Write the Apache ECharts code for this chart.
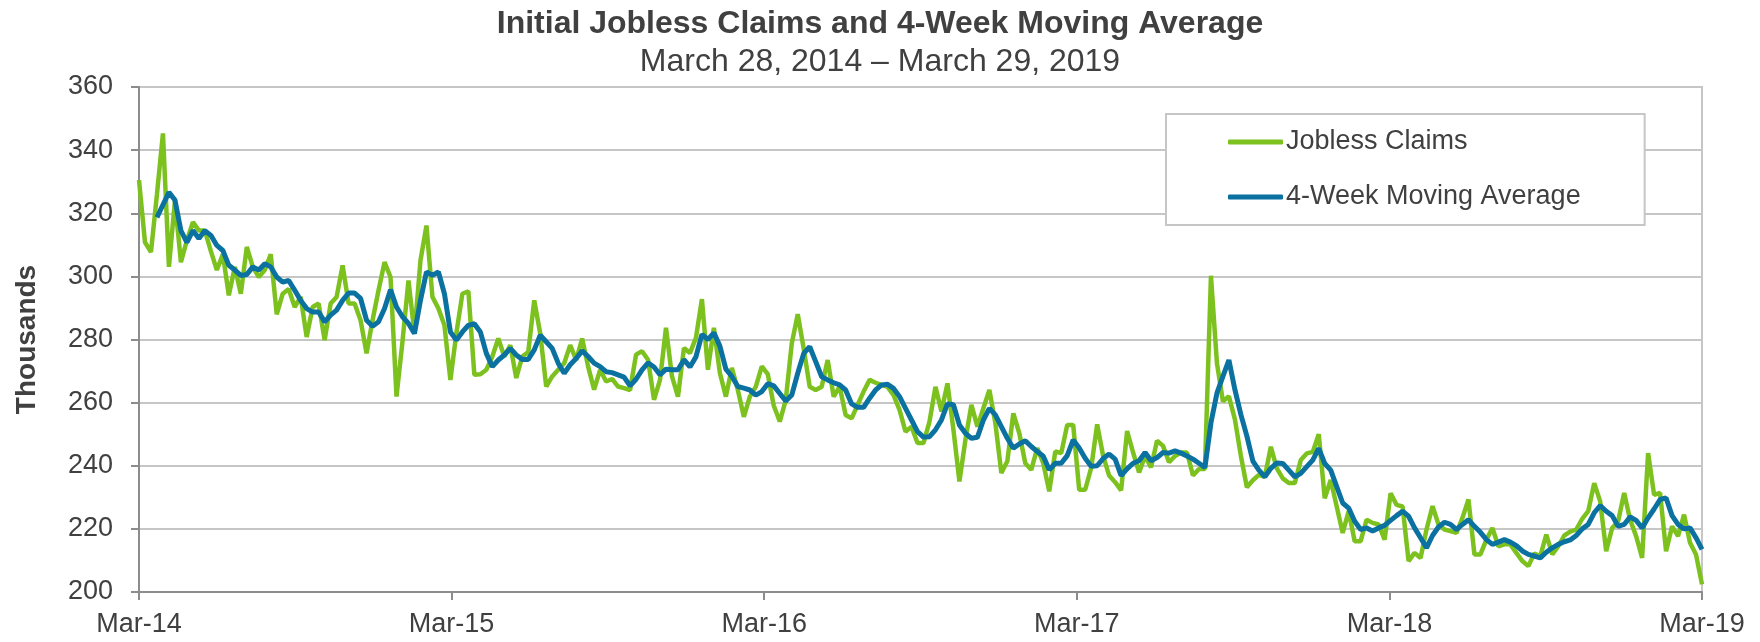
<!DOCTYPE html>
<html><head><meta charset="utf-8">
<script src="https://cdn.jsdelivr.net/npm/echarts@6/dist/echarts.min.js"></script>
<style>html,body{margin:0;padding:0;background:#fff}#c{width:1760px;height:642px}</style>
</head><body><div id="c"></div>
<script>
// Weekly data, week ending March 28, 2014 (index 0) to March 29, 2019 (index 261)
const xTickLabels = ['Mar-14', 'Mar-15', 'Mar-16', 'Mar-17', 'Mar-18', 'Mar-19'];
const weeksPerTick = 52.2;

const joblessClaims = [
  330.5, 310.8, 307.7, 326, 345.3, 303, 324, 304.5, 311.4, 317.2,
  314.5, 314.5, 308, 302, 307, 294, 303, 294.5, 309.3, 303,
  299.8, 302, 307, 288, 294.5, 296, 290.3, 293.5, 280.8, 290.3,
  291.4, 279.8, 291.4, 293.5, 303.5, 291.4, 291.4, 286.1, 275.6, 286.1,
  295.6, 304.5, 299.8, 261.9, 279.4, 298.7, 281.9, 305, 316.1, 293.5,
  289.8, 284.5, 267.2, 282, 294.5, 295.3, 268.8, 269, 270.4, 274.6,
  280.3, 274.6, 278.2, 267.8, 274.6, 276, 292.4, 281.9, 265.1, 268.3,
  270.4, 272.5, 278.2, 273.5, 280.3, 271.4, 264.1, 270.4, 266.7, 267.5,
  265.1, 264.6, 264, 275.2, 276.3, 273.6, 260.9, 267.2, 283.7, 268.3,
  261.9, 277.3, 275.7, 280.5, 292.8, 270.4, 283.7, 269.4, 261.9, 271,
  264, 255.5, 261.9, 265.1, 271.5, 269, 259, 254, 260.8, 278.7,
  288, 277, 265, 264, 265, 273.5, 261.9, 265.1, 256.1, 255,
  259.3, 263.5, 267.2, 266.3, 265.6, 265, 262.4, 257.7, 250.8, 252.4,
  247.2, 247.2, 254, 265, 257.2, 266.1, 251.4, 235, 248.2, 259.3,
  252.4, 258.2, 264, 253.5, 237.7, 241.4, 256.6, 250.3, 240.8, 238.7,
  245.6, 240.8, 231.9, 244.5, 244, 252.9, 252.9, 232.4, 232.4, 239.3,
  253.1, 243.1, 236.9, 234.8, 232.2, 251, 244.2, 237.9, 243.1, 239.5,
  247.9, 246.3, 241.1, 243.1, 244.2, 244.2, 236.9, 239, 239, 300.2,
  272.5, 260.4, 262, 254.7, 243.1, 233.2, 235.4, 237.1, 236.5, 246,
  239.2, 236, 234.5, 234.5, 241.8, 243.9, 244.4, 250, 229.7, 235.5,
  227.1, 218.7, 225.6, 216.1, 216.1, 222.9, 221.9, 221.4, 216.6, 231.3,
  227.6, 227.1, 209.8, 212.4, 210.8, 219.8, 227.2, 221.4, 219.8, 219.3,
  218.7, 223.5, 229.3, 211.9, 211.9, 216.6, 220.3, 214.5, 215.1, 215.1,
  212.4, 209.8, 208.2, 212.2, 211.4, 218.2, 211.9, 214.5, 217.9, 219.1,
  219.8, 223.2, 225.6, 234.5, 228.7, 212.9, 220.3, 222.4, 231.4, 222.9,
  217.7, 210.8, 244, 230.8, 231.4, 212.9, 220.8, 217.7, 224.5, 215.6,
  211.9, 202.4
];

const movingAverage = [
  null, null, null, 318.7, 322.7, 326.6, 324.2, 314.5, 310.8, 314.5,
  312, 314.5, 313, 309.8, 308.2, 303.5, 302, 300.3, 300.6, 303,
  302, 304, 303, 299.8, 298.2, 298.7, 295.6, 292.4, 289.8, 288.7,
  288.7, 285.6, 287.7, 289.3, 292.4, 294.7, 294.7, 293, 286.1, 284.2,
  285.6, 289.8, 295.8, 290.3, 287.2, 285.1, 281.9, 292.4, 301.4, 300.3,
  301.4, 294.5, 282.4, 279.8, 282.4, 284.5, 285, 282.4, 275.6, 271.4,
  273.5, 275.1, 277.2, 275.1, 273.7, 273.7, 276.7, 281.4, 279.3, 277.2,
  272.5, 269.3, 272, 274, 276.4, 274.6, 272.5, 271.4, 269.8, 269.5,
  268.8, 268.1, 265.3, 267.4, 270.4, 272.6, 271.3, 268.8, 270.6, 270.4,
  270.4, 273.6, 271.3, 274.5, 281.6, 280, 282.1, 277.9, 270.6, 268.3,
  265.1, 264.6, 264, 262.4, 263.5, 266, 265.3, 262.9, 260.5, 262.4,
  269.3, 275.6, 277.7, 273, 268.2, 267.2, 266.3, 265.6, 264, 259.6,
  258.5, 258.5, 261.4, 264, 265.6, 265.8, 264.5, 261.9, 258.2, 254.5,
  250.8, 249.1, 249.2, 251.4, 254.5, 259.6, 259.3, 252.9, 250.3, 248.7,
  249, 254.5, 258.2, 256.1, 252.4, 248.7, 245.6, 246.9, 247.9, 246.1,
  244.5, 243, 238.7, 240.8, 240.8, 243.2, 248.2, 245.6, 242.4, 239.8,
  240, 242.3, 243.7, 242.1, 236.9, 239, 240.8, 241.6, 244.2, 241.6,
  242.6, 244.2, 244, 244.7, 244, 243.1, 242.1, 240.8, 239.5, 253.6,
  263, 268.3, 273.5, 264.1, 256.2, 249.4, 241.5, 238.6, 236.5, 239.2,
  240.9, 240.7, 238.6, 236.5, 237.6, 239.7, 241.8, 245.5, 240.7, 238.6,
  233.4, 228.2, 226.6, 222.4, 219.8, 220.3, 219.3, 220.3, 221.1, 222.7,
  224.2, 225.6, 224, 220.3, 217.2, 214, 217.9, 220.6, 222.1, 221.4,
  219.8, 221.4, 222.9, 220.8, 218.9, 216.6, 215.1, 215.8, 216.6, 215.8,
  214.7, 213, 211.9, 211.4, 210.8, 212.6, 214, 215.1, 215.9, 216.5,
  217.9, 220, 221.4, 225.1, 227.4, 225.6, 224.2, 220.8, 221.4, 223.8,
  222.7, 220.3, 223.5, 226.3, 229.3, 229.8, 224.2, 221.4, 220, 220.3,
  217.2, 213.5
];

const seriesNames = ['Jobless Claims', '4-Week Moving Average'];
const titleText = 'Initial Jobless Claims and 4-Week Moving Average';
const subtitleText = 'March 28, 2014 \u2013 March 29, 2019';
const yAxisName = 'Thousands';

const toPairs = arr => arr.map((v, i) => [i, v]).filter(p => p[1] !== null);

const FONT = '"Liberation Sans", Arial, sans-serif';
const TXT = '#404040';
const GREEN = '#7dc11f';
const BLUE = '#0b71a0';
const chart = echarts.init(document.getElementById('c'), null, { renderer: 'canvas' });
chart.setOption({
  animation: false,
  backgroundColor: '#ffffff',
  textStyle: { fontFamily: FONT, color: TXT },
  title: {
    text: titleText,
    subtext: subtitleText,
    left: 'center',
    top: 3,
    itemGap: 6,
    textStyle: { fontFamily: FONT, fontSize: 32, fontWeight: 'bold', color: TXT },
    subtextStyle: { fontFamily: FONT, fontSize: 32, color: TXT }
  },
  grid: {
    left: 139, right: 58, top: 87, bottom: 50,
    show: true, borderColor: '#c6c6c6', borderWidth: 2, backgroundColor: 'transparent'
  },
  legend: {
    orient: 'vertical',
    left: 1166, top: 114,
    padding: [13, 64, 13, 62],
    itemGap: 25,
    itemWidth: 55, itemHeight: 5,
    backgroundColor: '#ffffff',
    borderColor: '#c6c6c6', borderWidth: 2,
    textStyle: { fontFamily: FONT, fontSize: 27, color: TXT, lineHeight: 30, padding: [0, 0, 0, -2] },
    data: [
      { name: seriesNames[0], icon: 'roundRect', itemStyle: { color: GREEN } },
      { name: seriesNames[1], icon: 'roundRect', itemStyle: { color: BLUE } }
    ]
  },
  xAxis: {
    type: 'value',
    min: 0, max: 261, interval: weeksPerTick,
    axisLine: { show: true, lineStyle: { color: '#8c8c8c', width: 2 } },
    axisTick: { show: true, length: 8, lineStyle: { color: '#8c8c8c', width: 2 } },
    splitLine: { show: false },
    axisLabel: {
      fontFamily: FONT, fontSize: 27, color: TXT, margin: 19,
      formatter: v => xTickLabels[Math.round(v / weeksPerTick)] || ''
    }
  },
  yAxis: {
    type: 'value',
    min: 200, max: 360, interval: 20,
    name: yAxisName,
    nameLocation: 'middle',
    nameGap: 98,
    nameTextStyle: { fontFamily: FONT, fontSize: 28, fontWeight: 'bold', color: TXT },
    axisLine: { show: true, lineStyle: { color: '#8c8c8c', width: 2 } },
    axisTick: { show: true, length: 8, lineStyle: { color: '#8c8c8c', width: 2 } },
    splitLine: { show: true, lineStyle: { color: '#c6c6c6', width: 2 } },
    axisLabel: { fontFamily: FONT, fontSize: 27, color: TXT, margin: 26 }
  },
  series: [
    {
      name: seriesNames[0], type: 'line', data: toPairs(joblessClaims),
      symbol: 'none', lineStyle: { color: GREEN, width: 4.5 }, itemStyle: { color: GREEN },
      z: 2
    },
    {
      name: seriesNames[1], type: 'line', data: toPairs(movingAverage),
      symbol: 'none', lineStyle: { color: BLUE, width: 5 }, itemStyle: { color: BLUE },
      z: 3
    }
  ]
});
</script>
</body></html>
